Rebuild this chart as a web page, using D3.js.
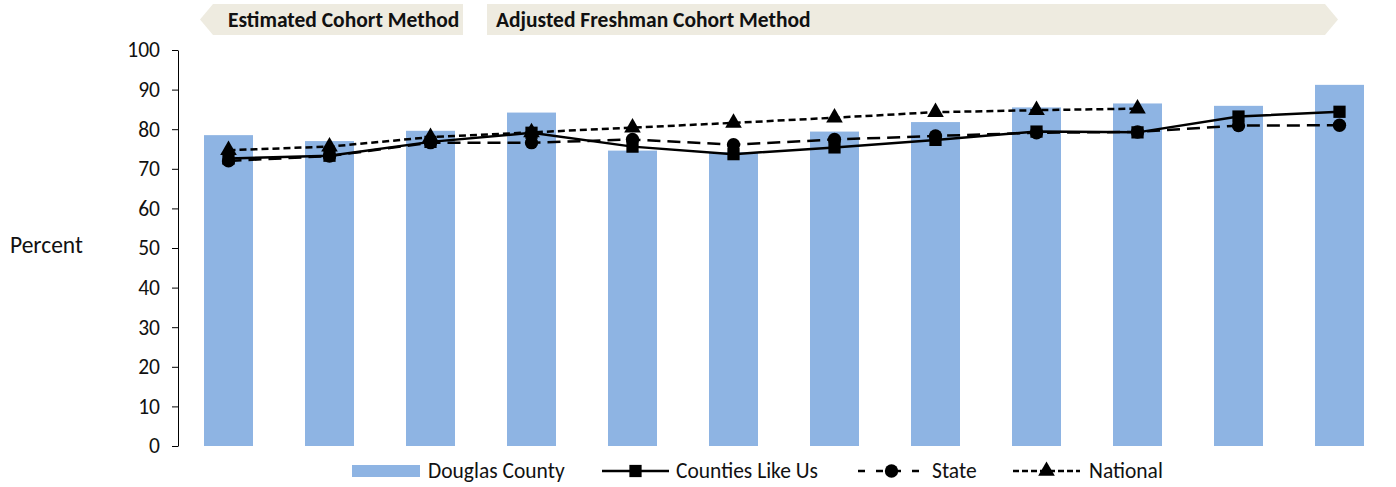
<!DOCTYPE html>
<html>
<head>
<meta charset="utf-8">
<script src="https://cdn.jsdelivr.net/npm/d3@7"></script>
<style>
  body { margin: 0; background: #fff; }
  svg text { font-family: Carlito, "Open Sans", sans-serif; fill: #111; }
</style>
</head>
<body>
<div id="chart"></div>
<script>
// cohort slots (no labels shown on the x axis)
var categories = ["c1", "c2", "c3", "c4", "c5", "c6", "c7", "c8", "c9", "c10", "c11", "c12"];
var douglas  = [78.5, 77.0, 79.6, 84.2, 74.6, 74.2, 79.4, 81.8, 85.5, 86.5, 85.9, 91.2];
var counties = [72.6, 73.3, 76.8, 79.1, 75.6, 73.7, 75.4, 77.3, 79.4, 79.2, 83.2, 84.4];
var state    = [72.0, 73.2, 76.6, 76.6, 77.4, 76.1, 77.4, 78.3, 79.1, 79.3, 80.9, 81.0];
var national = [74.7, 75.6, 78.0, 79.2, 80.4, 81.6, 82.9, 84.3, 84.8, 85.2, null, null];
var yTicks = [0, 10, 20, 30, 40, 50, 60, 70, 80, 90, 100];
var methods = ["Estimated Cohort Method", "Adjusted Freshman Cohort Method"];
var legendLabels = ["Douglas County", "Counties Like Us", "State", "National"];

var width = 1396, height = 487;
var barColor = "#8eb4e3";
var bannerColor = "#eeebe0";
var fontSize = "21.5px";

var svg = d3.select("#chart").append("svg")
    .attr("width", width)
    .attr("height", height);

var x = d3.scaleBand()
    .domain(categories)
    .range([178, 1390])
    .paddingInner(0.515)
    .paddingOuter(0.2575);

var y = d3.scaleLinear()
    .domain([0, 100])
    .range([446, 50]);

// method banners
var banners = [
    {label: methods[0], x0: 213, x1: 463, tip: 200, dir: "left", tx: 228},
    {label: methods[1], x0: 487, x1: 1325, tip: 1338, dir: "right", tx: 496}
];
var bTop = 4, bBot = 35, bMid = (bTop + bBot) / 2;
banners.forEach(function (b) {
    var pts;
    if (b.dir === "left") {
        pts = [[b.tip, bMid], [b.x0, bTop], [b.x1, bTop], [b.x1, bBot], [b.x0, bBot]];
    } else {
        pts = [[b.x0, bTop], [b.x1, bTop], [b.tip, bMid], [b.x1, bBot], [b.x0, bBot]];
    }
    svg.append("polygon")
        .attr("points", pts.map(function (p) { return p.join(","); }).join(" "))
        .attr("fill", bannerColor);
    svg.append("text")
        .attr("x", b.tx)
        .attr("y", bMid + 7)
        .style("font-size", fontSize)
        .style("font-weight", "bold")
        .text(b.label);
});

// y axis
var yAxis = svg.append("g")
    .attr("transform", "translate(178,0)")
    .call(d3.axisLeft(y).tickValues(yTicks).tickSize(6).tickPadding(12).tickSizeOuter(0));
yAxis.select(".domain").attr("stroke", "#000");
yAxis.selectAll(".tick line").attr("stroke", "#000");
yAxis.selectAll(".tick text")
    .style("font-size", fontSize)
    .attr("fill", "#111");

svg.append("text")
    .attr("x", 10)
    .attr("y", 253)
    .style("font-size", "23.5px")
    .text("Percent");

// bars
svg.append("g")
    .selectAll("rect")
    .data(douglas)
    .enter().append("rect")
    .attr("x", function (d, i) { return x(categories[i]); })
    .attr("y", function (d) { return y(d); })
    .attr("width", x.bandwidth())
    .attr("height", function (d) { return y(0) - y(d); })
    .attr("fill", barColor);

var cx = function (i) { return x(categories[i]) + x.bandwidth() / 2; };

var series = [
    {values: national, dash: "7,4", width: 2.5, marker: d3.symbolTriangle, size: 120},
    {values: state, dash: "13,7", width: 2.5, marker: d3.symbolCircle, size: 140},
    {values: counties, dash: null, width: 2.5, marker: d3.symbolSquare, size: 150}
];

series.forEach(function (s) {
    var line = d3.line()
        .defined(function (d) { return d != null; })
        .x(function (d, i) { return cx(i); })
        .y(function (d) { return y(d); });
    svg.append("path")
        .datum(s.values)
        .attr("d", line)
        .attr("fill", "none")
        .attr("stroke", "#000")
        .attr("stroke-width", s.width)
        .attr("stroke-dasharray", s.dash);
    svg.append("g")
        .selectAll("path")
        .data(s.values.map(function (d, i) { return {v: d, i: i}; })
            .filter(function (d) { return d.v != null; }))
        .enter().append("path")
        .attr("d", d3.symbol().type(s.marker).size(s.size))
        .attr("transform", function (d) {
            return "translate(" + cx(d.i) + "," + y(d.v) + ")";
        })
        .attr("fill", "#000");
});

// legend
var ly = 471;
var legend = svg.append("g");
legend.append("rect")
    .attr("x", 352).attr("y", ly - 6)
    .attr("width", 68).attr("height", 12)
    .attr("fill", barColor);
legend.append("text").attr("x", 428).attr("y", ly + 7)
    .style("font-size", fontSize).text(legendLabels[0]);

var legendLines = [
    {x0: 602, dash: null, width: 2.5, marker: d3.symbolSquare, size: 150, tx: 676, label: legendLabels[1]},
    {x0: 858, dash: "7,11", width: 2.5, marker: d3.symbolCircle, size: 140, tx: 932, label: legendLabels[2]},
    {x0: 1013, dash: "6,3", width: 2.5, marker: d3.symbolTriangle, size: 120, tx: 1089, label: legendLabels[3]}
];
legendLines.forEach(function (l) {
    legend.append("line")
        .attr("x1", l.x0).attr("x2", l.x0 + 67)
        .attr("y1", ly).attr("y2", ly)
        .attr("stroke", "#000")
        .attr("stroke-width", l.width)
        .attr("stroke-dasharray", l.dash);
    legend.append("path")
        .attr("d", d3.symbol().type(l.marker).size(l.size))
        .attr("transform", "translate(" + (l.x0 + 33.5) + "," + ly + ")")
        .attr("fill", "#000");
    legend.append("text").attr("x", l.tx).attr("y", ly + 7)
        .style("font-size", fontSize).text(l.label);
});
</script>
</body>
</html>
